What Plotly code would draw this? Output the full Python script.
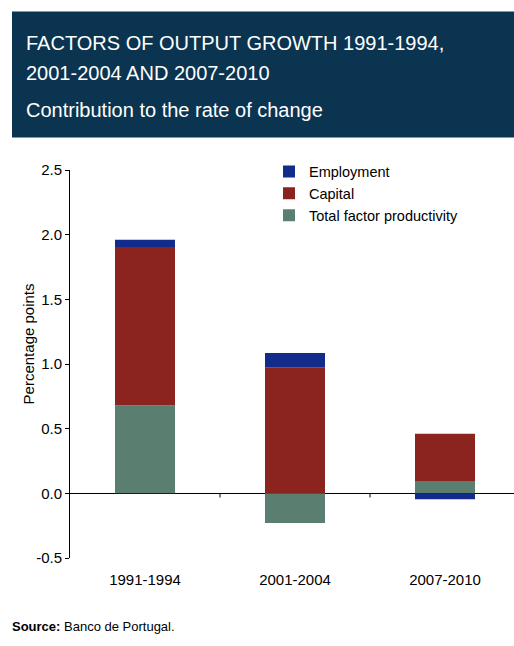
import plotly.graph_objects as go

# Periods and factor contributions (percentage points)
periods = ["1991-1994", "2001-2004", "2007-2010"]
tfp = [0.68, -0.23, 0.095]
capital = [1.225, 0.975, 0.365]
employment = [0.055, 0.11, -0.045]

y_ticks = [-0.5, 0.0, 0.5, 1.0, 1.5, 2.0, 2.5]

W, H = 514, 646
L, R, T, B = 70, 0, 169.5, 88.3
plot_w = W - L - R
plot_h = H - T - B


def px_x(px):
    return (px - L) / plot_w


def px_y(py):
    return (H - B - py) / plot_h


font_family = "Liberation Sans, Arial, sans-serif"

fig = go.Figure()
fig.add_trace(go.Bar(x=periods, y=tfp, name="Total factor productivity",
                     marker=dict(color="#5a7f70", line=dict(width=0)), width=0.4))
fig.add_trace(go.Bar(x=periods, y=capital, name="Capital",
                     marker=dict(color="#8b241e", line=dict(width=0)), width=0.4))
fig.add_trace(go.Bar(x=periods, y=employment, name="Employment",
                     marker=dict(color="#132b8b", line=dict(width=0)), width=0.4))

# small ticks on the zero line between categories
for i in range(len(periods) - 1):
    fig.add_shape(type="line", xref="x", yref="y", x0=i + 0.5, x1=i + 0.5,
                  y0=0, y1=-0.032, line=dict(color="black", width=1))

# heading box
fig.add_shape(type="rect", xref="paper", yref="paper", layer="below",
              x0=px_x(12), x1=px_x(W), y0=px_y(137), y1=px_y(11),
              fillcolor="#0b3450", line=dict(width=0))

heading = [("FACTORS OF OUTPUT GROWTH 1991-1994,", 42),
           ("2001-2004 AND 2007-2010", 72),
           ("Contribution to the rate of change", 109)]
for text, yc in heading:
    fig.add_annotation(text=text, xref="paper", yref="paper", x=px_x(24), y=px_y(yc),
                       xanchor="left", yanchor="middle", showarrow=False,
                       font=dict(family=font_family, size=20, color="white"))

fig.add_annotation(text="Percentage points", xref="paper", yref="paper",
                   x=px_x(28), y=px_y(344), textangle=-90, showarrow=False,
                   xanchor="center", yanchor="middle",
                   font=dict(family=font_family, size=15, color="black"))

fig.add_annotation(text="<b>Source:</b> Banco de Portugal.", xref="paper", yref="paper",
                   x=px_x(10), y=px_y(626), xanchor="left", yanchor="middle",
                   showarrow=False, font=dict(family=font_family, size=13, color="black"))

fig.update_layout(
    width=W, height=H,
    margin=dict(l=L, r=R, t=T, b=B, pad=0),
    barmode="relative",
    plot_bgcolor="white", paper_bgcolor="white",
    font=dict(family=font_family, size=15, color="black"),
    showlegend=True,
    legend=dict(x=px_x(269), y=px_y(155), xanchor="left", yanchor="top",
                traceorder="reversed", bgcolor="rgba(0,0,0,0)",
                font=dict(family=font_family, size=14.5, color="black"),
                tracegroupgap=0),
    xaxis=dict(range=[-0.5, 2.46], showline=False, showgrid=False, zeroline=False,
               ticks="", ticklabelstandoff=11, tickfont=dict(size=15), fixedrange=True),
    yaxis=dict(range=[-0.5, 2.5], tickvals=y_ticks, ticktext=[f"{v:.1f}" for v in y_ticks],
               showline=True, linecolor="black", linewidth=1, ticks="outside",
               ticklen=4, tickcolor="black", showgrid=False,
               zeroline=True, zerolinecolor="black", zerolinewidth=1,
               tickfont=dict(size=15), fixedrange=True),
)

fig.write_html("out.html")
